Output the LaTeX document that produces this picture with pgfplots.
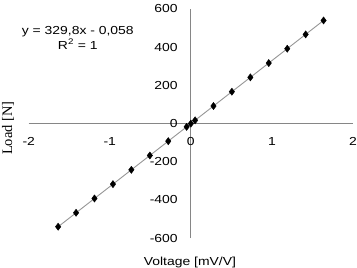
\documentclass[border=0pt]{standalone}
\usepackage{pgfplots}
\pgfplotsset{compat=1.18}
\usepackage{fontspec}
\setmainfont[FakeStretch=1.2]{Liberation Sans}
\newfontfamily\seriffont{Liberation Serif}
\definecolor{axgray}{RGB}{134,134,134}
\definecolor{lngray}{RGB}{150,150,150}
\begin{document}
\begin{tikzpicture}
\begin{axis}[
  name=ax,
  scale only axis,
  width=324bp, height=229bp,
  xmin=-2, xmax=2, ymin=-600, ymax=600,
  axis lines=middle,
  axis line style={axgray, line width=0.9bp, -},
  xtick={-2,-1,0,1,2},
  ytick={-600,-400,-200,0,200,400,600},
  major tick length=0pt,
  hide obscured x ticks=false,
  hide obscured y ticks=false,
  /pgf/number format/assume math mode=true,
  tick label style={font=\fontsize{11.6bp}{14bp}\selectfont, inner sep=0pt},
  xticklabel style={anchor=north, yshift=-14bp},
  yticklabel style={anchor=east, xshift=-13bp},
  xlabel={Voltage [mV/V]},
  xlabel style={at={(axis description cs:0.497,-0.105)}, anchor=center, font=\fontsize{11.6bp}{14bp}\selectfont},
  ylabel={\seriffont Load [N]},
  ylabel style={at={(axis description cs:-0.064,0.48)}, anchor=center, rotate=90, font=\fontsize{14.5bp}{16bp}\selectfont},
  clip=false,
]
\addplot[lngray, line width=0.9bp, no marks] coordinates {(-1.637,-540) (1.637,540)};
\addplot[only marks, mark=diamond*, mark size=3.6bp, black] coordinates {
(-1.637,-540) (-1.416,-467) (-1.189,-392) (-0.961,-317) (-0.734,-242)
(-0.506,-167) (-0.279,-92) (-0.052,-17) (0,0) (0.052,17) (0.279,92)
(0.506,167) (0.734,242) (0.961,317) (1.189,392) (1.416,467) (1.637,540)
};
\node[align=center, font=\fontsize{11.6bp}{15bp}\selectfont] at (axis cs:-1.395,451) {y = 329,8x - 0,058\\R\textsuperscript{2} = 1};
\end{axis}
\pgfresetboundingbox
\path[use as bounding box] ([shift={(-28.7bp,-29bp)}]ax.south west) rectangle ([shift={(4bp,9bp)}]ax.north east);
\end{tikzpicture}
\end{document}
